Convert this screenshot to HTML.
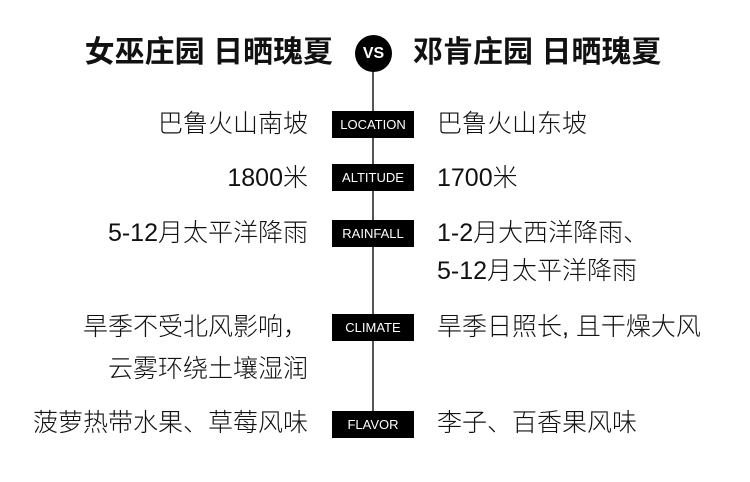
<!DOCTYPE html>
<html><head><meta charset="utf-8"><style>
body{margin:0;width:750px;height:482px;background:#fff;position:relative;overflow:hidden;font-family:"Liberation Sans","Noto Sans CJK SC",sans-serif;color:#111}
.t{position:absolute;font-weight:bold;font-size:30px;line-height:36px;white-space:nowrap}
.l,.r{position:absolute;font-size:25px;line-height:38px;white-space:nowrap;font-weight:300}
.l{right:442px;text-align:right}
.r{left:437px}
.b{position:absolute;left:332px;width:82px;height:27px;background:#000;color:#fff;font-size:13px;line-height:27px;text-align:center;font-family:"Liberation Sans",sans-serif}
</style></head><body>
<div style="position:absolute;left:372px;top:60px;width:2px;height:352px;background:#555"></div>
<div style="position:absolute;left:355px;top:35px;width:37px;height:37px;border-radius:50%;background:#000;color:#fff;font-weight:bold;font-size:16px;line-height:37px;text-align:center;font-family:'Liberation Sans',sans-serif">VS</div>
<div class="t" style="right:417px;top:35px">女巫庄园 日晒瑰夏</div>
<div class="t" style="left:413px;top:35px">邓肯庄园 日晒瑰夏</div>
<div class="b" style="top:111px">LOCATION</div>
<div class="b" style="top:164px">ALTITUDE</div>
<div class="b" style="top:220px">RAINFALL</div>
<div class="b" style="top:314px">CLIMATE</div>
<div class="b" style="top:411px">FLAVOR</div>
<div class="l" style="top:105px">巴鲁火山南坡</div>
<div class="r" style="top:105px">巴鲁火山东坡</div>
<div class="l" style="top:159px">1800米</div>
<div class="r" style="top:159px">1700米</div>
<div class="l" style="top:214px">5-12月太平洋降雨</div>
<div class="r" style="top:214px">1-2月大西洋降雨、<br>5-12月太平洋降雨</div>
<div class="l" style="top:306px;line-height:42px">旱季不受北风影响，<br>云雾环绕土壤湿润</div>
<div class="r" style="top:306px;line-height:42px">旱季日照长, 且干燥大风</div>
<div class="l" style="top:404px">菠萝热带水果、草莓风味</div>
<div class="r" style="top:404px">李子、百香果风味</div>
</body></html>
